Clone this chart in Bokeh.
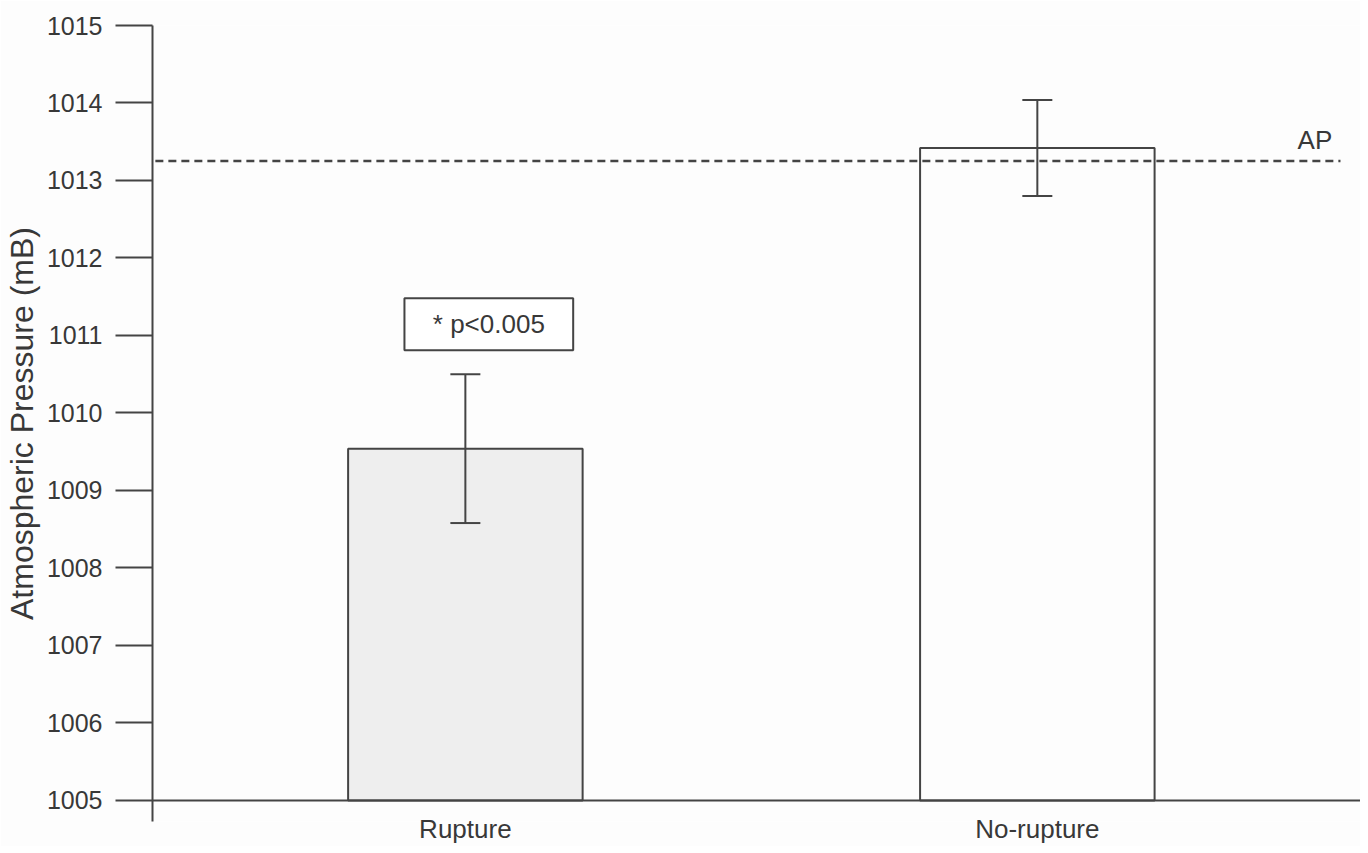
from bokeh.plotting import figure
from bokeh.models import (Range1d, FixedTicker, Span, Whisker, TeeHead,
                          ColumnDataSource)
from bokeh.core.properties import value
from bokeh.embed import file_html
from bokeh.resources import INLINE

# ---- data ----
groups = ["Rupture", "No-rupture"]
means = [1009.54, 1013.42]
errors = [0.96, 0.62]
fills = ["#eeeeee", "#fdfdfd"]
ap_level = 1013.25
ap_label = "AP"
sig_text = "* p<0.005"
y_ticks = [1005, 1006, 1007, 1008, 1009, 1010, 1011, 1012, 1013, 1014, 1015]
y_label = "Atmospheric Pressure (mB)"

FONT = "Liberation Sans"
INK = "#444444"
TXT = "#383838"

xs = [i + 0.5 for i in range(len(groups))]
src = ColumnDataSource(dict(
    x=xs, top=means, fill=fills,
    lower=[m - e for m, e in zip(means, errors)],
    upper=[m + e for m, e in zip(means, errors)],
))

p = figure(frame_width=1208, frame_height=796, output_backend="svg",
           toolbar_location=None,
           x_range=Range1d(-0.047, 2.065), y_range=Range1d(1004.729, 1015),
           min_border_left=144, min_border_right=0, min_border_top=25,
           min_border_bottom=0)
p.background_fill_color = "#fdfdfd"
p.border_fill_color = "#fdfdfd"
p.outline_line_color = None
p.grid.visible = False

# bars
p.vbar(x="x", top="top", bottom=y_ticks[0], width=0.41, source=src,
       fill_color="fill", line_color=INK, line_width=2)

# error bars
w = Whisker(source=src, base="x", lower="lower", upper="upper",
            line_color=INK, line_width=2, level="overlay",
            lower_head=TeeHead(size=30, line_color=INK, line_width=2),
            upper_head=TeeHead(size=30, line_color=INK, line_width=2))
p.add_layout(w)

# horizontal axis line at the bottom value
p.add_layout(Span(location=y_ticks[0], dimension="width", line_color=INK,
                  line_width=2))

# AP reference line
p.segment(x0=[-0.042], y0=[ap_level], x1=[2.03], y1=[ap_level],
          line_color=INK, line_width=2.5, line_dash="8 5")
p.text(x=[1.955], y=[ap_level + 0.27], text=[ap_label],
       text_font=value(FONT), text_font_size="26px", text_color=TXT,
       text_align="left", text_baseline="alphabetic")

# significance box
p.rect(x=[0.541], y=[1011.145], width=0.295, height=0.67,
       fill_color="#ffffff", line_color=INK, line_width=2)
p.text(x=[0.541], y=[1011.145], text=[sig_text],
       text_font=value(FONT), text_font_size="26px", text_color=TXT,
       text_align="center", text_baseline="middle")

# y axis
ya = p.yaxis[0]
ya.ticker = FixedTicker(ticks=y_ticks)
ya.minor_tick_line_color = None
ya.major_tick_out = 37
ya.major_tick_in = 0
ya.major_tick_line_color = INK
ya.major_tick_line_width = 2
ya.axis_line_color = INK
ya.axis_line_width = 2
ya.major_label_standoff = 13
ya.major_label_text_font = FONT
ya.major_label_text_font_size = "25px"
ya.major_label_text_color = TXT
ya.axis_label = y_label
ya.axis_label_text_font = FONT
ya.axis_label_text_font_size = "32px"
ya.axis_label_text_font_style = "normal"
ya.axis_label_text_color = TXT
ya.axis_label_standoff = 4

# x axis
xa = p.xaxis[0]
xa.ticker = FixedTicker(ticks=xs)
xa.major_label_overrides = {x: g for x, g in zip(xs, groups)}
xa.axis_line_color = None
xa.major_tick_line_color = None
xa.minor_tick_line_color = None
xa.major_tick_out = 0
xa.major_tick_in = 0
xa.major_label_standoff = -8
xa.major_label_text_font = FONT
xa.major_label_text_font_size = "26px"
xa.major_label_text_color = TXT

open("out.html", "w").write(file_html(p, INLINE))
